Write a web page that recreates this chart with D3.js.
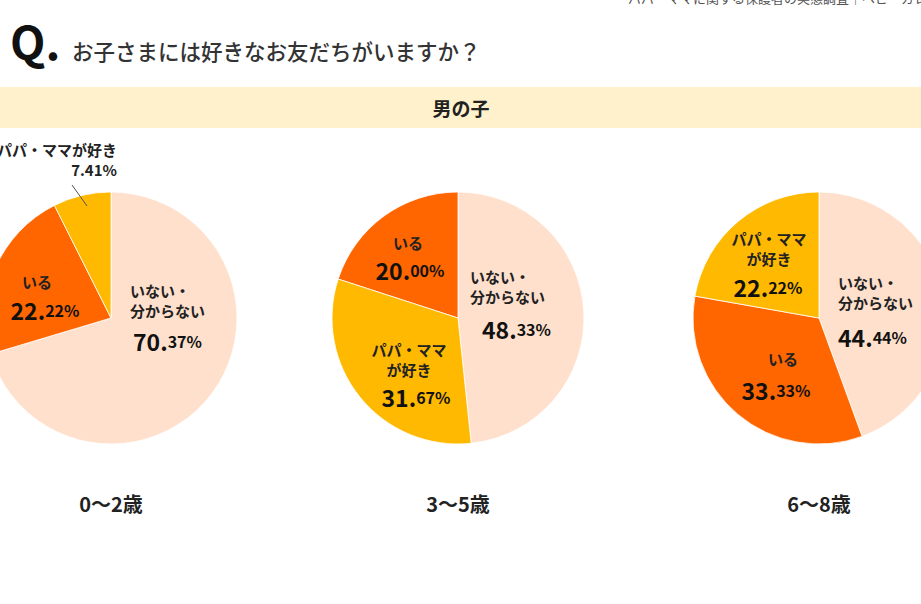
<!DOCTYPE html>
<html lang="ja">
<head>
  <meta charset="UTF-8" />
  <title>お子さまには好きなお友だちがいますか？</title>
  <script src="https://d3js.org/d3.v7.min.js"></script>
  <style>
    html, body {
      margin: 0;
      padding: 0;
      background: #fff;
    }

    svg {
      display: block;
      font-family: "Noto Sans CJK JP", "Noto Sans", sans-serif;
    }

    .label {
      font-size: 15px;
      font-weight: 700;
      fill: #222;
    }

    .age-label {
      font-size: 20px;
      font-weight: 700;
      fill: #222;
    }
  </style>
</head>

<body>
  <div id="chart"></div>
  <script>
    // data (percent)
    const ages = ["0〜2歳", "3〜5歳", "6〜8歳"];
    const answers = ["いない・分からない", "いる", "パパ・ママが好き"];
    const noneValues = [70.37, 48.33, 44.44];
    const yesValues = [22.22, 20.00, 33.33];
    const parentValues = [7.41, 31.67, 22.22];

    const answerLines = {
      "いない・分からない": ["いない・", "分からない"],
      "いる": ["いる"],
      "パパ・ママが好き": ["パパ・ママ", "が好き"]
    };

    const color = d3.scaleOrdinal()
      .domain(answers)
      .range(["#ffe0cd", "#ff6600", "#ffb900"]);

    const width = 921, height = 604;
    const radius = 126;
    const pieY = 318;

    const pieX = d3.scaleOrdinal()
      .domain(ages)
      .range([111, 458, 819]);

    // label placement, offsets from each pie centre (hand placed like the original)
    const labelLayout = [
      {
        "いない・分からない": { anchor: "start", x: 19, y: [-28, -8], px: 22, py: 23 },
        "いる": { anchor: "middle", x: -74, y: [-37], px: -66, py: -8 },
        "パパ・ママが好き": { anchor: "end", x: 6, y: [-169, -149], outside: true, line: [-39, -133, -24, -112] }
      },
      {
        "いない・分からない": { anchor: "start", x: 12, y: [-42, -22], px: 24, py: 11 },
        "いる": { anchor: "middle", x: -50, y: [-76], px: -48, py: -48 },
        "パパ・ママが好き": { anchor: "middle", x: -49, y: [31, 51], px: -42, py: 79 }
      },
      {
        "いない・分からない": { anchor: "start", x: 19, y: [-36, -16], px: 19, py: 19 },
        "いる": { anchor: "middle", x: -36, y: [40], px: -43, py: 72 },
        "パパ・ママが好き": { anchor: "middle", x: -50, y: [-80, -60], px: -51, py: -31 }
      }
    ];

    const svg = d3.select("#chart")
      .append("svg")
      .attr("width", width)
      .attr("height", height);

    // cut-off source line at the top edge
    svg.append("text")
      .attr("x", 628)
      .attr("y", 3)
      .attr("font-size", 13)
      .attr("fill", "#555")
      .text("パパ・ママに関する保護者の実態調査｜ベビーカレンダー");

    // question title
    svg.append("text")
      .attr("x", 10)
      .attr("y", 60)
      .attr("font-size", 46)
      .attr("font-weight", 700)
      .attr("fill", "#111")
      .text("Q.");

    svg.append("text")
      .attr("x", 72)
      .attr("y", 60)
      .attr("font-size", 21.5)
      .attr("font-weight", 500)
      .attr("fill", "#333")
      .text("お子さまには好きなお友だちがいますか？");

    // header band
    svg.append("rect")
      .attr("x", 0)
      .attr("y", 87)
      .attr("width", width)
      .attr("height", 41)
      .attr("fill", "#fff1cc");

    svg.append("text")
      .attr("x", 461)
      .attr("y", 107)
      .attr("text-anchor", "middle")
      .attr("dominant-baseline", "central")
      .attr("font-size", 19)
      .attr("font-weight", 700)
      .attr("fill", "#222")
      .text("男の子");

    const pie = d3.pie().value(d => d.value); // default sort: largest first
    const arc = d3.arc().innerRadius(0).outerRadius(radius);
    const fmt = d3.format(".2f");

    ages.forEach((age, i) => {
      const rows = [
        { answer: answers[0], value: noneValues[i] },
        { answer: answers[1], value: yesValues[i] },
        { answer: answers[2], value: parentValues[i] }
      ];

      const g = svg.append("g")
        .attr("transform", `translate(${pieX(age)},${pieY})`);

      g.selectAll("path")
        .data(pie(rows))
        .join("path")
        .attr("d", arc)
        .attr("fill", d => color(d.data.answer))
        .attr("stroke", "#fff")
        .attr("stroke-width", 0.8);

      rows.forEach(row => {
        const lay = labelLayout[i][row.answer];
        const lines = lay.outside ? [row.answer] : answerLines[row.answer];
        const ys = lay.outside ? [lay.y[0]] : lay.y;

        lines.forEach((t, k) => {
          g.append("text")
            .attr("class", "label")
            .attr("x", lay.x)
            .attr("y", ys[k])
            .attr("text-anchor", lay.anchor)
            .attr("dominant-baseline", "central")
            .text(t);
        });

        if (lay.outside) {
          g.append("text")
            .attr("class", "label")
            .attr("x", lay.x)
            .attr("y", lay.y[1])
            .attr("text-anchor", lay.anchor)
            .attr("dominant-baseline", "central")
            .text(fmt(row.value) + "%");
          g.append("line")
            .attr("x1", lay.line[0]).attr("y1", lay.line[1])
            .attr("x2", lay.line[2]).attr("y2", lay.line[3])
            .attr("stroke", "#555")
            .attr("stroke-width", 1);
        } else {
          const parts = fmt(row.value).split(".");
          const pct = g.append("text")
            .attr("x", lay.px)
            .attr("y", lay.py)
            .attr("text-anchor", lay.anchor)
            .attr("dominant-baseline", "central")
            .attr("font-weight", 700)
            .attr("fill", "#111");
          pct.append("tspan")
            .attr("font-size", 23)
            .text(parts[0] + ".");
          pct.append("tspan")
            .attr("font-size", 16)
            .text(parts[1] + "%");
        }
      });

      svg.append("text")
        .attr("class", "age-label")
        .attr("x", pieX(age))
        .attr("y", 503)
        .attr("text-anchor", "middle")
        .attr("dominant-baseline", "central")
        .text(age);
    });
  </script>
</body>
</html>
